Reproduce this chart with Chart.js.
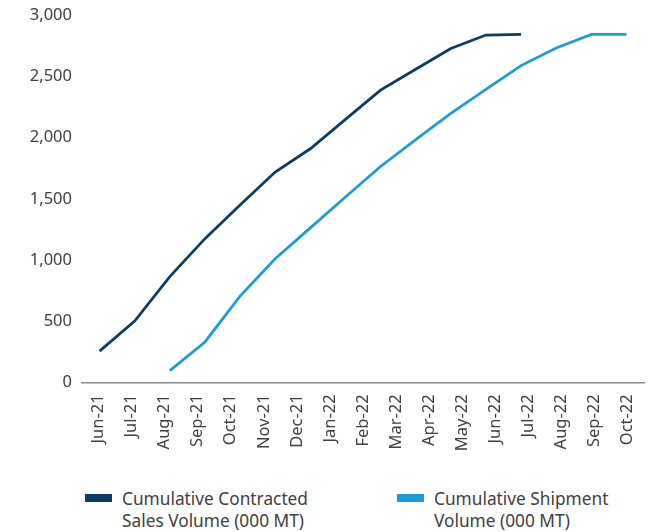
<!DOCTYPE html>
<html>
<head>
<meta charset="utf-8">
<script src="https://cdn.jsdelivr.net/npm/chart.js@4.4.1/dist/chart.umd.min.js"></script>
<style>
    html, body { margin: 0; padding: 0; background: #fff; }
    #wrap { position: relative; width: 651px; height: 532px; font-family: "Noto Sans", sans-serif; }
    #chartBox { position: absolute; left: 0; top: 0; width: 651px; height: 470px; }
    .legend-item { position: absolute; top: 488px; display: flex; align-items: flex-start; color: #404040; font-size: 17.3px; line-height: 22px; }
    .legend-item .swatch { width: 27px; height: 8px; margin-top: 6px; margin-right: 10px; }
</style>
</head>
<body>
<div id="wrap">
    <div id="chartBox"><canvas id="volumeChart"></canvas></div>
    <div class="legend-item" style="left:85px;"><span class="swatch" style="background:#0c3c64"></span><span>Cumulative Contracted<br>Sales Volume (000 MT)</span></div>
    <div class="legend-item" style="left:397px;"><span class="swatch" style="background:#1e9cd7"></span><span>Cumulative Shipment<br>Volume (000 MT)</span></div>
</div>
<script>
// Etiquetas del eje X (17 meses)
const months = ['Jun-21', 'Jul-21', 'Aug-21', 'Sep-21', 'Oct-21', 'Nov-21', 'Dec-21', 'Jan-22',
    'Feb-22', 'Mar-22', 'Apr-22', 'May-22', 'Jun-22', 'Jul-22', 'Aug-22', 'Sep-22', 'Oct-22'];

// Series (16 posiciones de datos en el gráfico original)
const contracted = [255, 500, 865, 1175, 1450, 1720, 1910, 2150, 2390, 2560, 2730, 2840, 2845, null, null, null];
const shipment = [null, null, 95, 330, 705, 1010, 1263, 1515, 1765, 1985, 2200, 2395, 2590, 2735, 2845, 2845];

// Marcas del eje Y
const yTicks = [0, 500, 1000, 1500, 2000, 2500, 3000];

const COLORS = {
    dark: '#0c3c64',
    light: '#1e9cd7',
    text: '#404040',
    axis: '#8c8c8c'
};

const dataSlots = contracted.map((_, i) => String(i));
const tickFont = { family: '"Noto Sans", sans-serif', size: 16.5 };

new Chart(document.getElementById('volumeChart').getContext('2d'), {
    type: 'line',
    data: {
        datasets: [
            {
                label: 'Cumulative Contracted Sales Volume (000 MT)',
                data: contracted,
                xAxisID: 'xData',
                borderColor: COLORS.dark,
                borderWidth: 2.75,
                pointRadius: 0,
                tension: 0,
                spanGaps: false
            },
            {
                label: 'Cumulative Shipment Volume (000 MT)',
                data: shipment,
                xAxisID: 'xData',
                borderColor: COLORS.light,
                borderWidth: 2.75,
                pointRadius: 0,
                tension: 0,
                spanGaps: false
            }
        ]
    },
    options: {
        responsive: true,
        maintainAspectRatio: false,
        animation: false,
        layout: { padding: { top: 15.5, right: 7, left: 0, bottom: 0 } },
        plugins: {
            legend: { display: false },
            tooltip: { enabled: false }
        },
        scales: {
            x: {
                type: 'category',
                labels: months,
                offset: true,
                afterFit: axis => {
                    axis.height = 87.7;
                    axis.paddingLeft = 0;
                    axis.paddingRight = 0;
                },
                grid: { display: false, drawTicks: false },
                border: { display: true, color: COLORS.axis, width: 1.5 },
                ticks: {
                    color: COLORS.text,
                    font: tickFont,
                    minRotation: 90,
                    maxRotation: 90,
                    padding: 12,
                    autoSkip: false
                }
            },
            xData: {
                type: 'category',
                labels: dataSlots,
                offset: true,
                display: false
            },
            y: {
                min: 0,
                max: 3000,
                afterBuildTicks: axis => { axis.ticks = yTicks.map(v => ({ value: v })); },
                afterFit: axis => {
                    axis.width = 82;
                    axis.paddingTop = 0;
                    axis.paddingBottom = 0;
                },
                grid: { display: false, drawTicks: false },
                border: { display: false },
                ticks: {
                    color: COLORS.text,
                    font: tickFont,
                    padding: 10,
                    callback: value => value.toLocaleString('en-US')
                }
            }
        }
    }
});
</script>
</body>
</html>
